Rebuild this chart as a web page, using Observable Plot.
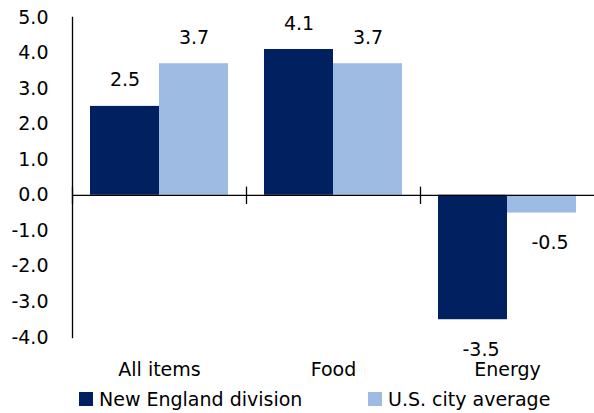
<!DOCTYPE html>
<html><head><meta charset="utf-8">
<script src="https://cdn.jsdelivr.net/npm/d3@7"></script>
<script src="https://cdn.jsdelivr.net/npm/@observablehq/plot@0.6"></script>
<style>
html,body{margin:0;padding:0;background:#fff;}
body{width:594px;height:413px;overflow:hidden;font-family:"DejaVu Sans",sans-serif;}
#chart svg{display:block;}
#legend{position:relative;height:28px;font-size:19px;color:#000;}
.item{position:absolute;top:0;height:28px;display:flex;align-items:center;white-space:nowrap;}
.sw{width:14px;height:14px;margin-right:6px;display:inline-block;}
</style></head>
<body><div id="chart"></div><div id="legend"></div>
<script>
const categories = ["All items", "Food", "Energy"];
const seriesNames = ["New England division", "U.S. city average"];
const newEngland = [2.5, 4.1, -3.5];
const usCityAverage = [3.7, 3.7, -0.5];
const yTicks = [5, 4, 3, 2, 1, 0, -1, -2, -3, -4];
const seriesColors = ["#002060", "#9DBBE3"];

const data = categories.flatMap((c, i) => [
  {category: c, series: seriesNames[0], value: newEngland[i]},
  {category: c, series: seriesNames[1], value: usCityAverage[i]}
]);

const W = 594, H = 385, mT = 17, mB = 48, mL = 72, mR = 0;
const plotH = H - mT - mB;
const zeroFrac = 5 / 9;
const tickHalf = 8;
const fs = 19;

const chart = Plot.plot({
  width: W, height: H,
  marginTop: mT, marginBottom: mB, marginLeft: mL, marginRight: mR,
  style: {fontFamily: "'DejaVu Sans', sans-serif", fontSize: fs + "px", color: "#000", background: "#fff"},
  fx: {domain: categories, padding: 0},
  x: {domain: seriesNames, paddingInner: 0, paddingOuter: 0.25, axis: null},
  y: {domain: [-4, 5]},
  color: {domain: seriesNames, range: seriesColors},
  marks: [
    Plot.barY(data, {fx: "category", x: "series", y: "value", fill: "series"}),
    Plot.ruleY([0], {stroke: "#000", strokeWidth: 1.3}),
    Plot.frame({anchor: "left", facetAnchor: "left", stroke: "#000", strokeWidth: 1.3}),
    Plot.frame({anchor: "left", stroke: "#000", strokeWidth: 1.3,
      insetTop: plotH * zeroFrac - tickHalf, insetBottom: plotH * (1 - zeroFrac) - tickHalf}),
    Plot.axisY({ticks: yTicks, tickFormat: d => d.toFixed(1), tickSize: 0, tickPadding: 24, fontSize: fs, label: null}),
    Plot.axisFx({anchor: "bottom", tickSize: 0, tickPadding: 25, fontSize: fs, label: null}),
    Plot.text(data.filter(d => d.value >= 0), {fx: "category", x: "series", y: "value",
      text: d => d.value.toFixed(1), dy: -26, fontSize: fs, lineAnchor: "middle", fill: "#000"}),
    Plot.text(data.filter(d => d.value < 0), {fx: "category", x: "series", y: "value",
      text: d => d.value.toFixed(1), dy: 30, dx: 8, fontSize: fs, lineAnchor: "middle", fill: "#000"})
  ]
});
document.getElementById("chart").appendChild(chart);

const legend = document.getElementById("legend");
const legendLeft = [79, 368];
seriesNames.forEach((name, i) => {
  const item = document.createElement("div");
  item.className = "item";
  item.style.left = legendLeft[i] + "px";
  const sw = document.createElement("span");
  sw.className = "sw";
  sw.style.background = seriesColors[i];
  const t = document.createElement("span");
  t.textContent = name;
  item.appendChild(sw); item.appendChild(t);
  legend.appendChild(item);
});
</script></body></html>
